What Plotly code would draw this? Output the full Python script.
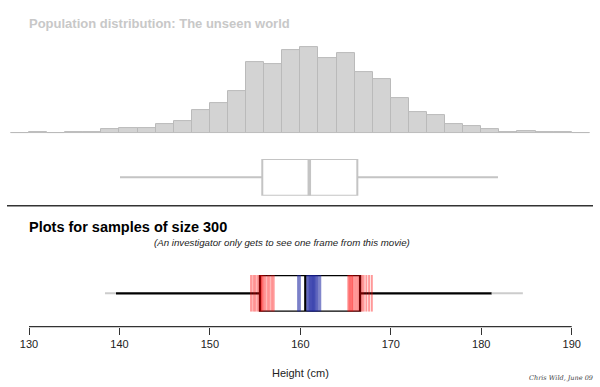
import plotly.graph_objects as go

# ---------------- data ----------------
bin_centers = [129, 131, 133, 135, 137, 139, 141, 143, 145, 147, 149, 151, 153, 155, 157, 159,
               161, 163, 165, 167, 169, 171, 173, 175, 177, 179, 181, 183, 185, 187, 189, 191]
bin_heights = [0.7, 1.8, 0.8, 1.8, 1.5, 4.5, 5.8, 5.8, 9.5, 12.5, 23.2, 30.2, 42.2, 71.5, 69.5, 83.5,
               86.8, 75.2, 80.8, 61.2, 54.2, 35.2, 21.5, 18.8, 9.5, 7.5, 4.8, 1.2, 2.5, 1.2, 1.5, 0.5]

pop_stats = dict(lowerfence=140.06, q1=155.79, median=160.99, q3=166.30, upperfence=181.85)
sample_stats = dict(lowerfence=139.62, q1=155.54, median=160.55, q3=166.60, upperfence=181.16)
sample_whisker_range = [138.4, 184.6]

prev_lower_q = [154.55, 154.8, 155.0, 155.25, 155.45, 155.6, 155.7, 155.8, 155.95, 156.15, 156.4, 156.6, 156.85, 157.05]
prev_upper_q = [165.3, 165.45, 165.55, 165.7, 165.8, 166.0, 166.2, 166.4, 166.6, 166.8, 167.0, 167.3, 167.6, 167.9]
prev_medians = [159.75, 159.95, 160.75, 160.9, 161.0, 161.1, 161.2, 161.3, 161.4, 161.5, 161.6, 161.7, 161.85, 162.0, 162.2]

tick_vals = [130, 140, 150, 160, 170, 180, 190]

W, H = 600, 387
def py(px):  # pixel row -> paper y
    return 1 - px / H

FONT = "Liberation Sans, Arial, Helvetica, sans-serif"
GREY = "#c4c4c4"

fig = go.Figure()

# population histogram
fig.add_trace(go.Bar(x=bin_centers, y=bin_heights, width=2,
                     marker=dict(color="#d3d3d3", line=dict(color="#bababa", width=1)),
                     xaxis="x", yaxis="y", hoverinfo="skip"))

# population box
fig.add_trace(go.Box(y=[0], orientation="h", q1=[pop_stats["q1"]], median=[pop_stats["median"]],
                     q3=[pop_stats["q3"]], lowerfence=[pop_stats["lowerfence"]],
                     upperfence=[pop_stats["upperfence"]], width=1, whiskerwidth=0,
                     fillcolor="white", line=dict(color=GREY, width=2),
                     boxpoints=False, xaxis="x", yaxis="y2", hoverinfo="skip"))
fig.add_trace(go.Scatter(x=[pop_stats["median"]] * 2, y=[-0.5, 0.5], mode="lines",
                         line=dict(color=GREY, width=3.5), xaxis="x", yaxis="y2", hoverinfo="skip"))

# sample: range of whiskers seen in other frames (only outside this frame's whiskers)
fig.add_trace(go.Scatter(x=[sample_whisker_range[0], sample_stats["lowerfence"], None,
                            sample_stats["upperfence"], sample_whisker_range[1]],
                         y=[0, 0, None, 0, 0], mode="lines",
                         line=dict(color="#cccccc", width=2), xaxis="x", yaxis="y3", hoverinfo="skip"))

# sample box
fig.add_trace(go.Box(y=[0], orientation="h", q1=[sample_stats["q1"]], median=[sample_stats["median"]],
                     q3=[sample_stats["q3"]], lowerfence=[sample_stats["lowerfence"]],
                     upperfence=[sample_stats["upperfence"]], width=1, whiskerwidth=0,
                     fillcolor="white", line=dict(color="black", width=2.3),
                     boxpoints=False, xaxis="x", yaxis="y3", hoverinfo="skip"))

def vlines(vals):
    xs, ys = [], []
    for v in vals:
        xs += [v, v, None]
        ys += [-0.5, 0.5, None]
    return xs, ys

for vals, col in [(prev_lower_q, "rgba(255,0,0,0.4)"), (prev_upper_q, "rgba(255,0,0,0.4)"),
                  (prev_medians, "rgba(25,35,160,0.55)")]:
    xs, ys = vlines(vals)
    fig.add_trace(go.Scatter(x=xs, y=ys, mode="lines", line=dict(color=col, width=2),
                             xaxis="x", yaxis="y3", hoverinfo="skip"))

# ---------------- layout ----------------
x0 = 130 - 29 / 9.045
x1 = 190 + (W - 571.7) / 9.045

fig.update_layout(
    width=W, height=H, margin=dict(l=0, r=0, t=0, b=0),
    paper_bgcolor="white", plot_bgcolor="white", showlegend=False,
    bargap=0,
    xaxis=dict(range=[x0, x1], domain=[0, 1], anchor="free", position=py(326.7),
               tickvals=tick_vals, ticks="outside", ticklen=7, tickwidth=1.3, tickcolor="#333",
               showline=False, showgrid=False, zeroline=False,
               tickfont=dict(family=FONT, size=11, color="#222")),
    yaxis=dict(domain=[py(133.5), py(133.5) + 106.4 / H], range=[0, 106.4], visible=False),
    yaxis2=dict(domain=[py(195.7), py(159)], range=[-0.5, 0.5], visible=False),
    yaxis3=dict(domain=[py(311.7), py(275)], range=[-0.5, 0.5], visible=False),
)

# axis line from 130 to 190 (R style)
fig.add_shape(type="line", xref="x", yref="paper", x0=130, x1=190, y0=py(326.7), y1=py(326.7),
              line=dict(color="#333", width=1.3))
# separator line
fig.add_shape(type="line", xref="paper", yref="paper", x0=7 / W, x1=593 / W, y0=py(205.7), y1=py(205.7),
              line=dict(color="#333", width=1.5))

def ann(text, x, y, size, color="black", xanchor="left", bold=False, italic=False, family=FONT):
    if bold:
        text = "<b>" + text + "</b>"
    if italic:
        text = "<i>" + text + "</i>"
    fig.add_annotation(text=text, x=x / W, y=py(y), xref="paper", yref="paper", showarrow=False,
                       xanchor=xanchor, yanchor="middle", font=dict(family=family, size=size, color=color))

ann("Population distribution: The unseen world", 27, 23, 13, color="#c8c8c8", bold=True)
ann("Plots for samples of size 300", 27, 226.7, 14.5, bold=True)
ann("(An investigator only gets to see one frame from this movie)", 282, 242.7, 9.7,
    color="#222", xanchor="center", italic=True)
ann("Height (cm)", 300, 373.3, 11, color="#222", xanchor="center")
ann("Chris Wild, June 09", 561, 378, 6.5, color="#444", xanchor="center", italic=True,
    family="DejaVu Serif, serif")

fig.write_html("out.html", config={"displayModeBar": False},
               post_script="document.body.style.margin='0';document.body.style.padding='0';")
